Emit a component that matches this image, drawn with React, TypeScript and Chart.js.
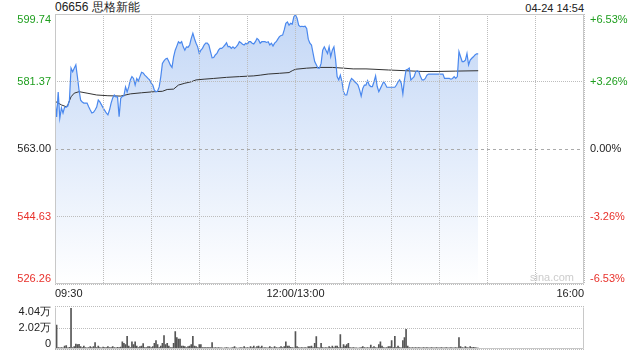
import React, { useEffect, useRef } from 'react';
import { Chart, registerables } from 'chart.js';

Chart.register(...registerables);

const FONT = 'Arial, "Liberation Sans", Helvetica, sans-serif';

const TITLE = '06656 思格新能';
const TIMESTAMP = '04-24 14:54';
const WATERMARK = 'sina.com';
const PREV_CLOSE = 563.0;
const TOTAL_MINUTES = 330;
const PRICE_TICKS = [526.26, 544.63, 563.0, 581.37, 599.74];
const PCT_LABELS = ['-6.53%', '-3.26%', '0.00%', '+3.26%', '+6.53%'];
const TIME_GRID_STEP = 30;
const TIME_LABEL_MINUTES = [0, 150, 330];
const TIME_LABELS = ['09:30', '12:00/13:00', '16:00'];
const VOLUME_TICKS = [0, 20200, 40400];
const VOLUME_LABELS = ['0', '2.02万', '4.04万'];

// one price per trading minute from 09:30
const prices = [
  576.3, 571.7, 578.5, 571.4, 574.2, 572.8, 574.4, 574.4, 574.7, 576.3,
  585.0, 584.0, 585.0, 585.9, 582.6, 579.0, 576.3, 575.8, 575.5, 575.5,
  575.5, 574.5, 573.6, 572.8, 573.0, 573.6, 574.4, 576.3, 575.8, 575.0,
  574.2, 573.5, 572.8, 572.3, 573.6, 575.5, 576.9, 577.7, 577.2, 577.2,
  571.8, 576.8, 577.3, 577.5, 579.9, 578.5, 579.9, 581.8, 582.7, 582.2,
  580.4, 582.2, 581.5, 582.7, 583.9, 583.7, 583.1, 582.7, 582.2, 581.8,
  580.9, 580.4, 579.0, 578.6, 578.8, 579.9, 582.7, 586.3, 587.0, 587.5,
  587.7, 586.8, 585.8, 585.2, 588.1, 589.9, 591.0, 592.2, 591.8, 592.2,
  590.8, 589.9, 590.8, 590.7, 591.3, 593.1, 594.5, 593.0, 591.8, 590.8,
  589.0, 589.9, 590.4, 591.3, 591.8, 591.8, 591.3, 589.5, 587.8, 587.9,
  588.6, 589.0, 589.9, 590.4, 590.4, 590.8, 591.3, 591.9, 590.8, 590.9,
  590.4, 590.8, 590.4, 590.8, 591.3, 592.2, 591.9, 591.5, 591.3, 591.8,
  591.5, 592.2, 592.2, 591.8, 591.6, 592.2, 593.1, 592.7, 591.8, 592.2,
  592.2, 592.2, 592.0, 592.2, 591.3, 591.8, 591.0, 591.8, 592.2, 592.9,
  593.6, 593.9, 594.0, 595.4, 597.2, 597.6, 596.7, 597.2, 597.0, 599.0,
  599.5, 598.6, 596.7, 596.3, 596.4, 596.3, 596.4, 595.8, 592.9, 591.8,
  591.3, 589.0, 586.8, 585.9, 585.0, 585.0, 586.3, 589.9, 590.8, 589.9,
  589.0, 590.8, 588.1, 589.9, 590.8, 587.5, 582.7, 581.8, 583.1, 581.3,
  578.6, 577.7, 577.7, 579.5, 581.3, 582.2, 581.8, 581.3, 580.9, 580.4,
  579.1, 577.4, 579.5, 580.4, 580.4, 581.6, 580.4, 580.0, 580.0, 581.3,
  582.9, 580.0, 578.6, 579.5, 580.4, 581.3, 580.7, 579.8, 579.8, 579.8,
  579.8, 579.8, 579.8, 580.4, 581.3, 581.8, 580.9, 578.0, 581.8, 584.5,
  584.7, 585.0, 581.8, 582.2, 582.7, 584.0, 584.3, 584.0, 582.7, 581.8,
  581.8, 582.2, 583.1, 583.4, 583.4, 583.4, 583.4, 583.4, 583.4, 583.4,
  583.4, 583.4, 583.4, 582.2, 582.2, 582.2, 582.2, 582.0, 582.2, 582.7,
  582.2, 582.7, 589.5, 588.1, 586.8, 586.8, 587.2, 589.0, 585.9, 587.2,
  587.7, 588.1, 588.6, 588.9, 588.9,
];

// average price line, read at these minutes
const avgMinutes = [
  0, 4, 7, 8, 10, 12, 15, 20, 26, 33, 41, 47, 54, 62, 67, 70, 74, 77, 81, 85,
  88, 93, 99, 107, 115, 124, 128, 133, 140, 146, 148, 150, 157, 165, 173, 180,
  186, 194, 199, 208, 219, 229, 239, 250, 264,
];
const avgPrices = [
  576.0, 575.0, 574.5, 575.0, 577.2, 578.2, 578.6, 578.2, 577.7, 577.5, 577.4,
  578.0, 578.3, 578.6, 578.7, 579.2, 579.3, 580.4, 580.9, 581.3, 581.8, 582.0,
  582.2, 582.5, 582.7, 582.9, 583.1, 583.4, 583.6, 583.8, 584.3, 584.7, 585.0,
  585.2, 585.2, 585.0, 584.8, 584.8, 584.7, 584.5, 584.3, 584.1, 584.1, 584.2,
  584.3,
];

// volume per minute (shares)
const volumes = [
  13700, 23000, 1800, 1500, 1800, 1500, 3200, 3500, 1500, 2000,
  38800, 1800, 2600, 5000, 4500, 4800, 2600, 1800, 3200, 1800,
  1500, 1800, 2600, 1800, 2600, 6500, 1800, 3200, 1800, 1500,
  2200, 1800, 1600, 2600, 1800, 1800, 2600, 1800, 1500, 2000,
  1800, 2200, 7100, 5800, 4500, 12400, 3200, 1800, 7100, 4500,
  7100, 3200, 1800, 2600, 3200, 5500, 1800, 1800, 2600, 2600,
  1800, 2600, 5800, 8400, 4500, 1800, 3200, 5800, 13000, 4500,
  5800, 3200, 1800, 1800, 5800, 16900, 11100, 9800, 9800, 3200,
  3200, 2600, 1800, 2600, 3200, 4500, 12400, 3200, 2600, 1800,
  4500, 4500, 1800, 1800, 1800, 1800, 1800, 1800, 6500, 1500,
  1800, 1500, 1800, 1500, 1500, 1200, 1500, 1800, 1500, 1200,
  1500, 1800, 2600, 1500, 1200, 1500, 1800, 1500, 2600, 1500,
  1800, 1500, 2600, 1800, 3200, 1500, 2600, 3200, 1800, 3200,
  1500, 1800, 1500, 1500, 2600, 1800, 1500, 2600, 1800, 1500,
  1800, 2600, 1800, 2600, 7100, 3200, 3200, 2000, 1800, 1500,
  16900, 2600, 1800, 1500, 1800, 1500, 1800, 1500, 2600, 2600,
  3200, 1800, 5800, 12000, 1800, 1500, 5800, 1800, 1500, 1800,
  1500, 2600, 1800, 3200, 1800, 3200, 3200, 1800, 14000, 1800,
  4500, 3200, 4500, 5800, 1800, 1500, 1800, 1500, 1500, 1200,
  1500, 1800, 2600, 1800, 1500, 1800, 1500, 4000, 1800, 2600,
  1800, 1500, 4500, 7100, 3200, 1800, 1500, 1800, 2600, 2600,
  8400, 1800, 12400, 1800, 3200, 1800, 1500, 8400, 11100, 19000,
  3200, 1800, 1500, 1800, 1500, 1800, 1500, 1800, 1500, 1500,
  1800, 1500, 1800, 1500, 1500, 1800, 1500, 1500, 1800, 1500,
  1500, 1800, 1500, 1500, 1800, 1500, 1500, 1800, 1500, 1500,
  1800, 1500, 11100, 2600, 1800, 1500, 2600, 1800, 1500, 2600,
  1800, 2000, 1800, 1500, 1200,
];

const GREEN = '#1e9e1e';
const RED = '#e8312b';
const DARK = '#222';
const FRAME = '#c8c8c8';
const GRID = '#bdbdbd';

const priceColor = (v: number) =>
  Math.abs(v - PREV_CLOSE) < 0.001 ? DARK : v > PREV_CLOSE ? GREEN : RED;

const edgeLabels = {
  id: 'edgeLabels',
  beforeDraw(chart: any) {
    Object.values(chart.scales).forEach((s: any) => {
      if (s.axis !== 'y' || !s.options.display) return;
      const items = s.getLabelItems();
      if (!items || !items.length) return;
      items[0].options.textBaseline = 'bottom';
      items[items.length - 1].options.textBaseline = 'top';
    });
  },
};

const makeFrame = (top: boolean) => ({
  id: 'frame',
  afterDraw(chart: any) {
    const { ctx, chartArea: a } = chart;
    const l = Math.round(a.left) + 0.5;
    const r = Math.round(a.right) - 0.5;
    const t = Math.round(a.top) + 0.5;
    const b = Math.round(a.bottom) - 0.5;
    ctx.save();
    ctx.strokeStyle = FRAME;
    ctx.lineWidth = 1;
    ctx.setLineDash([]);
    ctx.beginPath();
    if (top) {
      ctx.moveTo(l, t);
      ctx.lineTo(r, t);
    }
    ctx.moveTo(l, t);
    ctx.lineTo(l, b);
    ctx.lineTo(r, b);
    ctx.lineTo(r, t);
    ctx.stroke();
    ctx.restore();
  },
});

export default function App() {
  const mainRef = useRef<HTMLCanvasElement>(null);
  const volRef = useRef<HTMLCanvasElement>(null);

  useEffect(() => {
    Chart.defaults.font.family = FONT;
    Chart.defaults.font.size = 11;

    const timeTicks: number[] = [];
    for (let m = 0; m <= TOTAL_MINUTES; m += TIME_GRID_STEP) timeTicks.push(m);

    const main = new Chart(mainRef.current as HTMLCanvasElement, {
      type: 'line',
      data: {
        datasets: [
          {
            data: prices.map((p, i) => ({ x: i, y: p })),
            borderColor: '#4a88ee',
            borderWidth: 1.2,
            pointRadius: 0,
            tension: 0,
            fill: 'start',
            backgroundColor: (c: any) => {
              const a = c.chart.chartArea;
              if (!a) return '#dce8f9';
              const g = c.chart.ctx.createLinearGradient(0, a.top, 0, a.bottom);
              g.addColorStop(0, '#c3d7f6');
              g.addColorStop(1, '#ffffff');
              return g;
            },
          },
          {
            data: avgMinutes.map((m, i) => ({ x: m, y: avgPrices[i] })),
            borderColor: '#333333',
            borderWidth: 1,
            pointRadius: 0,
            tension: 0,
            fill: false,
          },
        ],
      },
      options: {
        animation: false,
        responsive: false,
        events: [],
        layout: { padding: { top: 14, left: 0, right: 0, bottom: 0 } },
        plugins: {
          legend: { display: false },
          tooltip: { enabled: false },
          filler: { drawTime: 'beforeDatasetsDraw' },
        },
        scales: {
          x: {
            type: 'linear',
            min: 0,
            max: TOTAL_MINUTES,
            offset: false,
            afterBuildTicks: (s: any) => {
              s.ticks = timeTicks.map((v) => ({ value: v }));
            },
            afterFit: (s: any) => {
              s.height = 16;
            },
            ticks: {
              autoSkip: false,
              maxRotation: 0,
              align: 'inner',
              padding: 3,
              color: DARK,
              font: { size: 11, family: FONT },
              callback: (v: any) => {
                const k = TIME_LABEL_MINUTES.indexOf(Number(v));
                return k >= 0 ? TIME_LABELS[k] : '';
              },
            },
            grid: { color: GRID, drawTicks: false, lineWidth: 1, z: 1 },
            border: { display: false, dash: [1, 1] },
          },
          y: {
            position: 'left',
            min: PRICE_TICKS[0],
            max: PRICE_TICKS[PRICE_TICKS.length - 1],
            afterBuildTicks: (s: any) => {
              s.ticks = PRICE_TICKS.map((v) => ({ value: v }));
            },
            afterFit: (s: any) => {
              s.width = 55;
            },
            ticks: {
              padding: 4,
              color: (c: any) => priceColor(c.tick.value),
              font: { size: 11, family: FONT },
              callback: (v: any) => Number(v).toFixed(2),
            },
            grid: {
              drawTicks: false,
              z: 1,
              color: (c: any) => (c.tick && Math.abs(c.tick.value - PREV_CLOSE) < 0.001 ? '#aaaaaa' : GRID),
            },
            border: {
              display: false,
              dash: (c: any) => (c.tick && Math.abs(c.tick.value - PREV_CLOSE) < 0.001 ? [3, 3] : [1, 1]),
            },
          },
          y2: {
            position: 'right',
            min: PRICE_TICKS[0],
            max: PRICE_TICKS[PRICE_TICKS.length - 1],
            afterBuildTicks: (s: any) => {
              s.ticks = PRICE_TICKS.map((v) => ({ value: v }));
            },
            afterFit: (s: any) => {
              s.width = 56;
            },
            ticks: {
              padding: 6,
              color: (c: any) => priceColor(c.tick.value),
              font: { size: 11, family: FONT },
              callback: (_v: any, i: number) => PCT_LABELS[i],
            },
            grid: { display: false, drawTicks: false },
            border: { display: false },
          },
        },
      } as any,
      plugins: [edgeLabels, makeFrame(true)],
    });

    const vol = new Chart(volRef.current as HTMLCanvasElement, {
      type: 'bar',
      data: {
        datasets: [
          {
            data: volumes.map((v, i) => ({ x: i, y: v })),
            backgroundColor: '#555555',
            barThickness: 1,
          },
        ],
      },
      options: {
        animation: false,
        responsive: false,
        events: [],
        layout: { padding: { top: 8, left: 0, right: 56, bottom: 5 } },
        plugins: { legend: { display: false }, tooltip: { enabled: false } },
        scales: {
          x: {
            type: 'linear',
            min: 0,
            max: TOTAL_MINUTES,
            offset: false,
            display: false,
          },
          y: {
            position: 'left',
            min: VOLUME_TICKS[0],
            max: VOLUME_TICKS[VOLUME_TICKS.length - 1],
            afterBuildTicks: (s: any) => {
              s.ticks = VOLUME_TICKS.map((v) => ({ value: v }));
            },
            afterFit: (s: any) => {
              s.width = 55;
            },
            ticks: {
              padding: 4,
              color: DARK,
              font: { size: 11, family: FONT },
              callback: (_v: any, i: number) => VOLUME_LABELS[i],
            },
            grid: { drawTicks: false, color: GRID },
            border: { display: false, dash: [1, 1] },
          },
        },
      } as any,
      plugins: [edgeLabels, makeFrame(false)],
    });

    return () => {
      main.destroy();
      vol.destroy();
    };
  }, []);

  return (
    <div
      style={{
        position: 'absolute',
        left: 0,
        top: 0,
        width: 640,
        height: 360,
        background: '#fff',
        fontFamily: FONT,
        overflow: 'hidden',
      }}
    >
      <div style={{ position: 'absolute', left: 55, top: 0, fontSize: 12, lineHeight: '15px', color: DARK }}>
        {TITLE}
      </div>
      <div
        style={{
          position: 'absolute',
          left: 0,
          width: 584,
          top: 1,
          fontSize: 11,
          lineHeight: '14px',
          color: DARK,
          textAlign: 'right',
        }}
      >
        {TIMESTAMP}
      </div>
      <canvas ref={mainRef} width={640} height={300} style={{ position: 'absolute', left: 0, top: 0 }} />
      <canvas ref={volRef} width={640} height={64} style={{ position: 'absolute', left: 0, top: 296 }} />
      <div
        style={{
          position: 'absolute',
          left: 0,
          width: 574,
          top: 271,
          fontSize: 11,
          lineHeight: '13px',
          color: '#cccccc',
          textAlign: 'right',
        }}
      >
        {WATERMARK}
      </div>
    </div>
  );
}
